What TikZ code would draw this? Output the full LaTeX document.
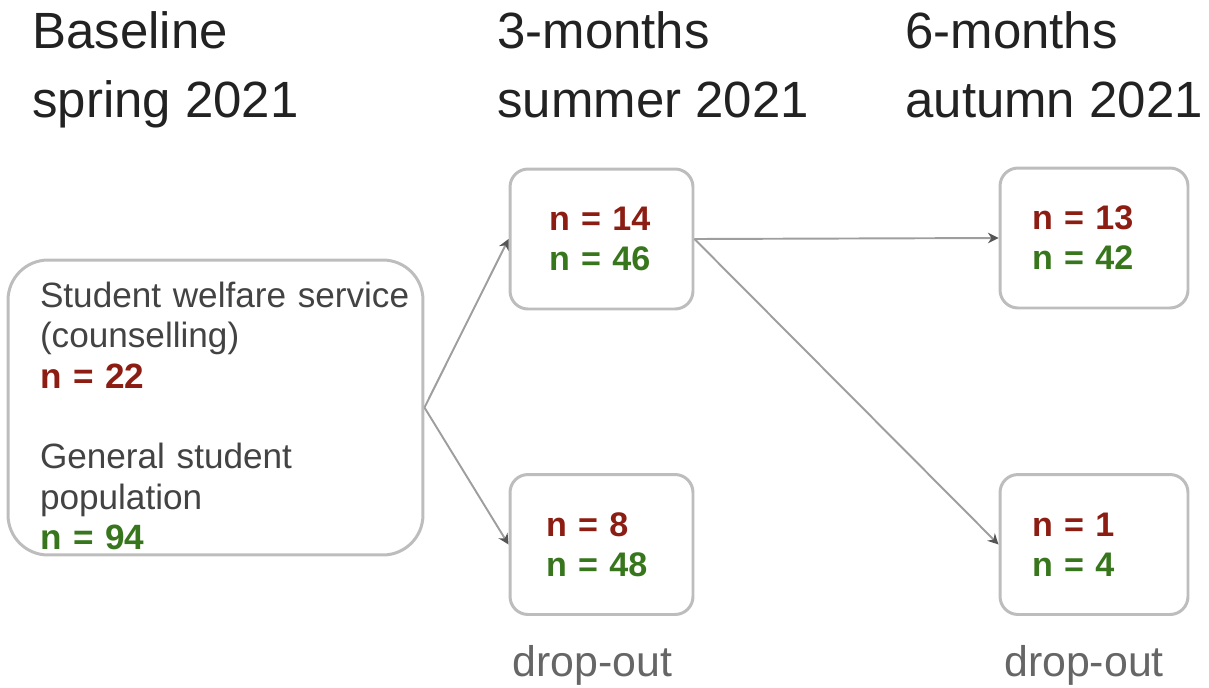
\documentclass[tikz,border=0pt]{standalone}
\usepackage{fontspec}
\setmainfont{Liberation Sans}
\usetikzlibrary{arrows.meta}
\definecolor{headc}{HTML}{222222}
\definecolor{bodyc}{HTML}{434343}
\definecolor{dropc}{HTML}{666666}
\definecolor{redn}{HTML}{8C1D12}
\definecolor{greenn}{HTML}{38761D}
\definecolor{boxc}{HTML}{BDBDBD}
\definecolor{linec}{HTML}{9E9E9E}
\definecolor{tipc}{HTML}{555555}
\tikzset{
  head/.style={anchor=base west, inner sep=0pt, text=headc, font=\fontsize{29}{39}\selectfont},
  nbox/.style={draw=boxc, line width=1.7pt, rounded corners=0.36cm, fill=white,
    minimum height=2.8cm, align=left, font=\fontsize{19.4}{22.7}\selectfont\bfseries},
  bigbox/.style={draw=boxc, line width=1.7pt, rounded corners=0.8cm, fill=white,
    minimum width=8.3cm, minimum height=5.9cm, inner xsep=0.64cm, inner ysep=0pt, text width=7.02cm,
    align=left, text=bodyc, font=\fontsize{20}{23}\selectfont},
  conn/.style={draw=linec, line width=1.1pt, -{Stealth[length=6pt,width=6pt,color=tipc]}},
  drop/.style={anchor=base, inner sep=0pt, text=dropc, font=\fontsize{24.4}{28}\selectfont},
}
\newcommand{\rn}[1]{\textcolor{redn}{#1}}
\newcommand{\gn}[1]{\textcolor{greenn}{#1}}
\hbadness=10000 \hfuzz=100pt
\begin{document}
\begin{tikzpicture}[x=0.02cm, y=-0.02cm]
\useasboundingbox (0,0) rectangle (1209,687);

% headers
\node[head] (h1a) at (32,48) {Baseline};
\node[head] (h1b) at (32,117) {spring 2021};
\node[head] (h2a) at (497,48) {3-months};
\node[head] (h2b) at (497,117) {summer 2021};
\node[head] (h3a) at (905,48) {6-months};
\node[head] (h3b) at (905,117) {autumn 2021};

% boxes
\node[bigbox] (lb) at (215.5,407.5) {\rule{0pt}{24pt}\mbox{Student welfare service}\\(counselling)\\\textbf{\rn{n = 22}}\\[23pt]General student\\population\\\textbf{\gn{n = 94}}};

\node[nbox, minimum width=3.66cm, inner xsep=0.78cm, text width=2.1cm] (b1) at (601.5,239) {\rn{n = 14}\\\gn{n = 46}};
\node[nbox, minimum width=3.66cm, inner xsep=0.72cm, text width=2.22cm] (b2) at (601.5,544.5) {\rn{n = 8}\\\gn{n = 48}};
\node[nbox, minimum width=3.76cm, inner xsep=0.64cm, text width=2.48cm] (b3) at (1094,238) {\rn{n = 13}\\\gn{n = 42}};
\node[nbox, minimum width=3.76cm, inner xsep=0.64cm, text width=2.48cm] (b4) at (1094,544.5) {\rn{n = 1}\\\gn{n = 4}};

% drop-out labels
\node[drop] (d1) at (592.5,676) {drop-out};
\node[drop] (d2) at (1084,676) {drop-out};

% connectors
\draw[conn] (lb.east) -- (b1.west);
\draw[conn] (lb.east) -- (b2.west);
\draw[conn] (b1.east) -- (b3.west);
\draw[conn] (b1.east) -- (b4.west);
\end{tikzpicture}
\end{document}
